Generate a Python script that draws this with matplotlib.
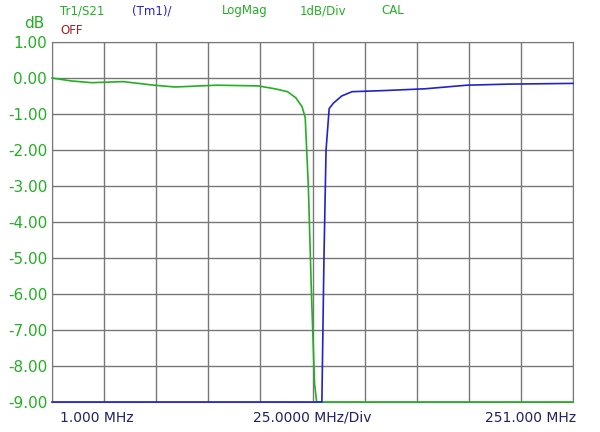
import matplotlib
matplotlib.use("Agg")
import matplotlib.pyplot as plt
import numpy as np

green_f = [1, 10, 20, 35, 50, 60, 80, 100, 108, 114, 118, 121, 122.5, 124, 125.5, 127, 128, 251]
green_db = [0, -0.08, -0.13, -0.1, -0.2, -0.25, -0.2, -0.22, -0.3, -0.38, -0.55, -0.8, -1.1, -3.0, -6.0, -8.5, -9.0, -9.0]
blue_f = [1, 130.5, 131.5, 132.5, 134, 136, 140, 145, 160, 180, 200, 220, 251]
blue_db = [-9.0, -9.0, -5.0, -2.0, -0.85, -0.7, -0.5, -0.38, -0.35, -0.3, -0.2, -0.17, -0.15]
yticks = [1, 0, -1, -2, -3, -4, -5, -6, -7, -8, -9]

G = "#22b022"
B = "#2222cc"
fig = plt.figure(figsize=(6, 4.32), dpi=100)
ax = fig.add_axes([52/600, 30/432, 521/600, 360/432])
ax.plot(green_f, green_db, color=G, lw=1.2, clip_on=False, zorder=3)
ax.plot(blue_f, blue_db, color=B, lw=1.2, clip_on=False, zorder=3)
ax.set_xlim(1, 251)
ax.set_ylim(-9, 1)
ax.set_xticks(np.linspace(1, 251, 11))
ax.set_yticks(yticks)
ax.grid(True, color="#777777", lw=1)
ax.tick_params(length=0, labelbottom=False)
ax.set_yticklabels([f"{v:.2f}" for v in yticks], color=G, fontsize=11)
for s in ax.spines.values():
    s.set_color("#777777")
fig.text(0.1, 0.033, "1.000 MHz", color="#222266", fontsize=10, va="center", ha="left")
fig.text(0.52, 0.033, "25.0000 MHz/Div", color="#222266", fontsize=10, va="center", ha="center")
fig.text(0.96, 0.033, "251.000 MHz", color="#222266", fontsize=10, va="center", ha="right")
fig.text(0.04, 0.945, "dB", color=G, fontsize=11, va="center")
fig.text(0.1, 0.975, "Tr1/S21", color=G, fontsize=8.5, va="center")
fig.text(0.1, 0.93, "OFF", color="#a02020", fontsize=8.5, va="center")
fig.text(0.22, 0.975, "(Tm1)/", color=B, fontsize=8.5, va="center")
fig.text(0.37, 0.975, "LogMag", color=G, fontsize=8.5, va="center")
fig.text(0.5, 0.975, "1dB/Div", color=G, fontsize=8.5, va="center")
fig.text(0.635, 0.975, "CAL", color=G, fontsize=8.5, va="center")
fig.savefig("out.png")
